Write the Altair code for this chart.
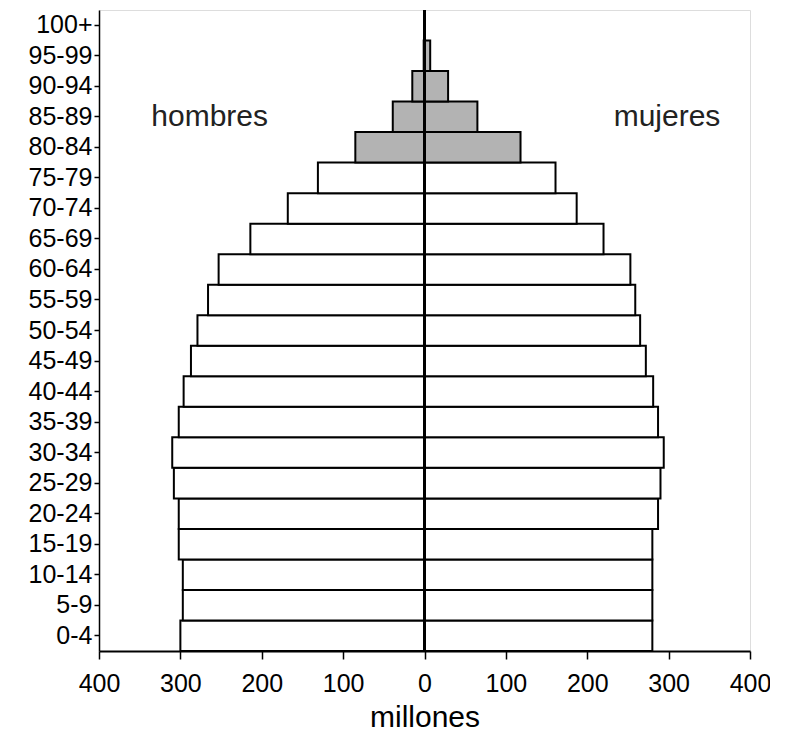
import altair as alt
import pandas as pd

ages = ["0-4", "5-9", "10-14", "15-19", "20-24", "25-29", "30-34", "35-39",
        "40-44", "45-49", "50-54", "55-59", "60-64", "65-69", "70-74",
        "75-79", "80-84", "85-89", "90-94", "95-99", "100+"]
hombres = [300, 297, 297, 302, 302, 308, 310, 302, 296, 287, 279, 266, 253,
           214, 168, 131, 85, 39, 15, 1, 0]
mujeres = [280, 280, 280, 280, 287, 290, 294, 287, 281, 272, 265, 259, 253,
           220, 187, 161, 118, 65, 29, 7, 0]
mayores = ["80-84", "85-89", "90-94", "95-99", "100+"]
x_ticks = [-400, -300, -200, -100, 0, 100, 200, 300, 400]

rows = []
for a, h, m in zip(ages, hombres, mujeres):
    g = "mayor" if a in mayores else "joven"
    rows.append({"edad": a, "valor": -h, "sexo": "hombres", "grupo": g})
    rows.append({"edad": a, "valor": m, "sexo": "mujeres", "grupo": g})
df = pd.DataFrame(rows)

labels = pd.DataFrame({"texto": ["hombres", "mujeres"],
                       "valor": [-264, 298],
                       "edad": ["85-89", "85-89"]})

order = ages[::-1]
FONT = "Liberation Sans"

y_enc = alt.Y("edad:N", sort=order, title=None,
              scale=alt.Scale(paddingInner=0, paddingOuter=0),
              axis=alt.Axis(labelFontSize=25, labelFont=FONT, labelColor="black",
                            tickSize=5, tickColor="black", tickWidth=1.5,
                            domainColor="black", domainWidth=1.5,
                            labelPadding=2, grid=False))
x_scale = alt.Scale(domain=[-400, 400], nice=False)

bars = alt.Chart(df).mark_bar(stroke="black", strokeWidth=2).encode(
    x=alt.X("valor:Q", scale=x_scale, title="millones",
            axis=alt.Axis(values=x_ticks, labelExpr="format(abs(datum.value), 'd')",
                          labelFontSize=25, labelFont=FONT, labelColor="black",
                          labelFlush=False, labelOverlap=False,
                          tickSize=8, tickColor="black", tickWidth=1.5,
                          domainColor="black", domainWidth=2,
                          labelPadding=12, titleFontSize=30, titleFont=FONT,
                          titleFontWeight="normal", titleColor="black",
                          titlePadding=6, grid=False)),
    y=y_enc,
    fill=alt.Fill("grupo:N", scale=alt.Scale(domain=["joven", "mayor"],
                                             range=["white", "#b3b3b3"]),
                  legend=None),
)

rule = alt.Chart(df).mark_rule(color="black", strokeWidth=3).encode(
    x=alt.datum(0, scale=x_scale)
)

text = alt.Chart(labels).mark_text(fontSize=30, font=FONT, color="#222222").encode(
    x=alt.X("valor:Q", scale=x_scale),
    y=alt.Y("edad:N", sort=order),
    text="texto:N",
)

chart = alt.layer(bars, rule, text).properties(
    width=651, height=641,
    padding={"left": 91, "top": 2, "right": 20, "bottom": 80},
    autosize=alt.AutoSizeParams(type="none"),
).configure_view(stroke=None).configure(background="white")

chart.save("out.html", embed_options={"renderer": "svg", "actions": False})
